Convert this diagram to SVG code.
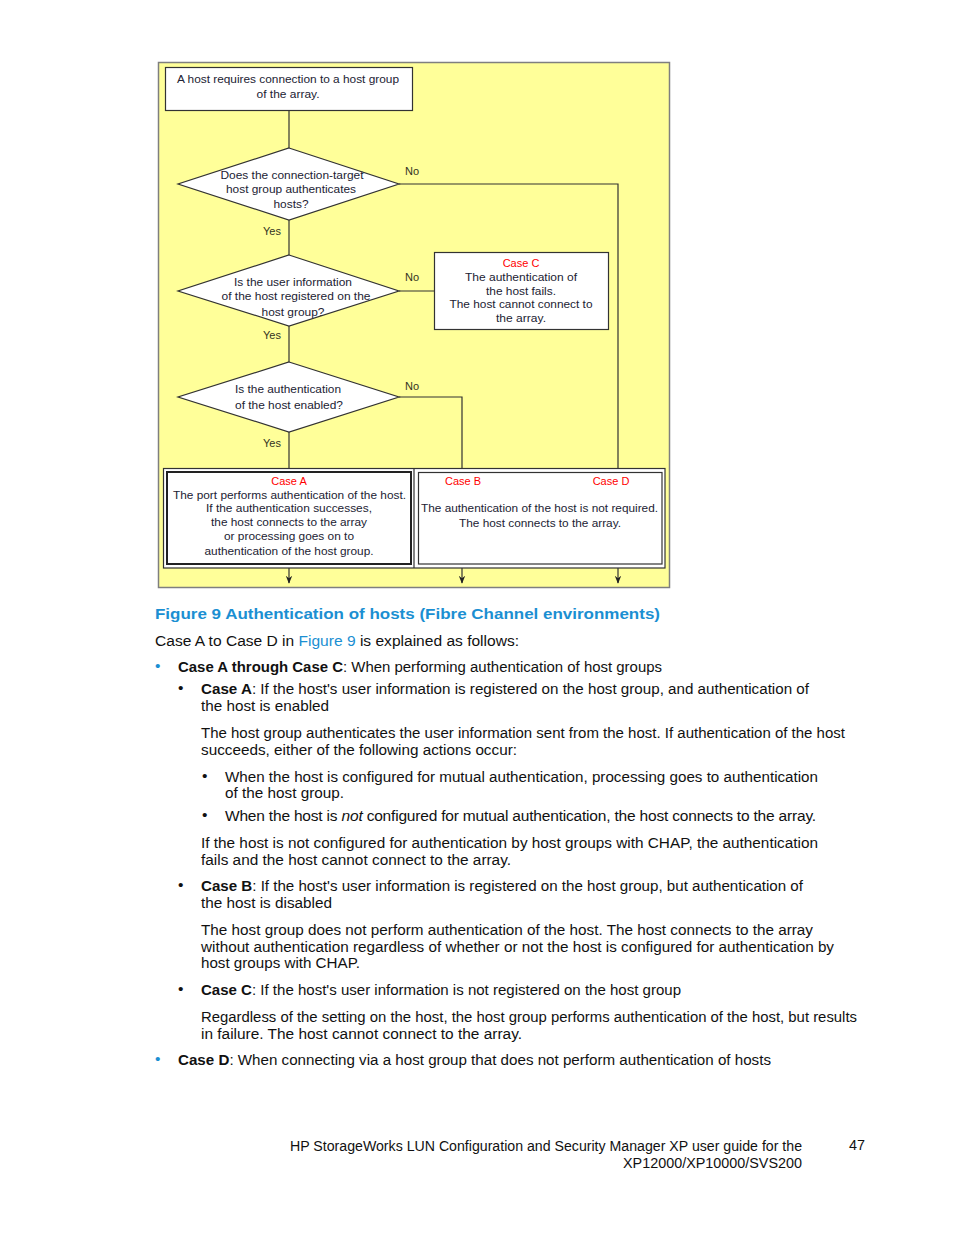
<svg xmlns="http://www.w3.org/2000/svg" width="954" height="1235" viewBox="0 0 954 1235">
<defs>
<style>
.d{font-family:"Liberation Sans",Arial,sans-serif;font-size:11px;fill:#222233;text-anchor:middle}
.red{fill:#ff0000}
.lb{font-family:"Liberation Sans",Arial,sans-serif;font-size:11px;fill:#333322}
.b{font-family:"Liberation Sans",Arial,sans-serif;font-size:15.5px;fill:#111}
.bb{font-weight:bold}
.blue{fill:#1b8fd2}
.ln{stroke:#333;stroke-width:1.2;fill:none}
.bx{fill:#fff;stroke:#333;stroke-width:1.2}
</style>
<marker id="ar" viewBox="0 0 10 10" refX="9" refY="5" markerWidth="8" markerHeight="8" orient="auto" markerUnits="userSpaceOnUse">
<path d="M0,1 L10,5 L0,9 L3,5 Z" fill="#222"/>
</marker>
</defs>
<rect width="954" height="1235" fill="#fff"/>
<rect x="158.5" y="62.5" width="511" height="525" fill="#ffff99" stroke="#7f7f7f" stroke-width="1.5"/>

<g id="connectors">
<path class="ln" d="M289,110 V148"/>
<path class="ln" d="M289,220 V255"/>
<path class="ln" d="M399,184 H618 V468"/>
<path class="ln" d="M399,291 H434"/>
<path class="ln" d="M289,326 V362"/>
<path class="ln" d="M399,397 H462 V468"/>
<path class="ln" d="M289,432 V468"/>
<path class="ln" d="M289,568 V583" marker-end="url(#ar)"/>
<path class="ln" d="M462,568 V583" marker-end="url(#ar)"/>
<path class="ln" d="M618,568 V583" marker-end="url(#ar)"/>
</g>

<g id="start">
<rect class="bx" x="165.5" y="67.5" width="247" height="43"/>
<text class="d" x="288" y="83" textLength="222" lengthAdjust="spacingAndGlyphs">A host requires connection to a host group</text>
<text class="d" x="288" y="98" textLength="63" lengthAdjust="spacingAndGlyphs">of the array.</text>
</g>

<g id="d1">
<polygon class="bx" points="289,148 399,184 289,220 178,184"/>
<text class="d" x="292" y="179" textLength="143" lengthAdjust="spacingAndGlyphs">Does the connection-target</text>
<text class="d" x="291" y="193" textLength="130" lengthAdjust="spacingAndGlyphs">host group authenticates</text>
<text class="d" x="291" y="208" textLength="35" lengthAdjust="spacingAndGlyphs">hosts?</text>
<text class="lb" x="405" y="175">No</text>
<text class="lb" x="263" y="235">Yes</text>
</g>

<g id="d2">
<polygon class="bx" points="289,255 399,291 289,326 178,291"/>
<text class="d" x="293" y="286" textLength="118" lengthAdjust="spacingAndGlyphs">Is the user information</text>
<text class="d" x="296" y="300" textLength="149" lengthAdjust="spacingAndGlyphs">of the host registered on the</text>
<text class="d" x="293" y="316" textLength="63" lengthAdjust="spacingAndGlyphs">host group?</text>
<text class="lb" x="405" y="281">No</text>
<text class="lb" x="263" y="339">Yes</text>
</g>

<g id="caseC">
<rect class="bx" x="434.5" y="252.5" width="174" height="77"/>
<text class="d red" x="521" y="267">Case C</text>
<text class="d" x="521" y="281" textLength="112" lengthAdjust="spacingAndGlyphs">The authentication of</text>
<text class="d" x="521" y="295" textLength="70" lengthAdjust="spacingAndGlyphs">the host fails.</text>
<text class="d" x="521" y="308" textLength="143" lengthAdjust="spacingAndGlyphs">The host cannot connect to</text>
<text class="d" x="521" y="322" textLength="50" lengthAdjust="spacingAndGlyphs">the array.</text>
</g>

<g id="d3">
<polygon class="bx" points="289,362 399,397 289,432 178,397"/>
<text class="d" x="288" y="393" textLength="106" lengthAdjust="spacingAndGlyphs">Is the authentication</text>
<text class="d" x="289" y="409" textLength="108" lengthAdjust="spacingAndGlyphs">of the host enabled?</text>
<text class="lb" x="405" y="390">No</text>
<text class="lb" x="263" y="447">Yes</text>
</g>

<g id="results">
<rect x="163.5" y="468.5" width="501.5" height="99.5" fill="#fff" stroke="#333" stroke-width="1.2"/>
<line x1="414" y1="468" x2="414" y2="568" stroke="#333" stroke-width="1.2"/>
</g>

<g id="caseA">
<rect x="167" y="472" width="244" height="92" fill="#fff" stroke="#222" stroke-width="2"/>
<text class="d red" x="289" y="485">Case A</text>
<text class="d" x="289.5" y="499" textLength="233" lengthAdjust="spacingAndGlyphs">The port performs authentication of the host.</text>
<text class="d" x="289" y="512" textLength="166" lengthAdjust="spacingAndGlyphs">If the authentication successes,</text>
<text class="d" x="289" y="526" textLength="156" lengthAdjust="spacingAndGlyphs">the host connects to the array</text>
<text class="d" x="289" y="540" textLength="130" lengthAdjust="spacingAndGlyphs">or processing goes on to</text>
<text class="d" x="289" y="555" textLength="169" lengthAdjust="spacingAndGlyphs">authentication of the host group.</text>
</g>

<g id="caseBD">
<rect x="418.5" y="472.5" width="243.5" height="91.5" fill="#fff" stroke="#333" stroke-width="1.2"/>
<text class="d red" x="463" y="485">Case B</text>
<text class="d red" x="611" y="485">Case D</text>
<text class="d" x="539.5" y="512" textLength="237" lengthAdjust="spacingAndGlyphs">The authentication of the host is not required.</text>
<text class="d" x="540" y="527" textLength="162" lengthAdjust="spacingAndGlyphs">The host connects to the array.</text>
</g>

<g id="body">
<text class="b bb blue" x="155" y="619" textLength="505" lengthAdjust="spacingAndGlyphs">Figure 9 Authentication of hosts (Fibre Channel environments)</text>
<text class="b" x="155" y="646" textLength="364" lengthAdjust="spacingAndGlyphs">Case A to Case D in <tspan class="blue">Figure 9</tspan> is explained as follows:</text>

<text class="b blue" x="155" y="671">•</text>
<text class="b" x="178" y="672" textLength="484" lengthAdjust="spacingAndGlyphs"><tspan class="bb">Case A through Case C</tspan>: When performing authentication of host groups</text>

<text class="b" x="178" y="693">•</text>
<text class="b" x="201" y="694" textLength="608" lengthAdjust="spacingAndGlyphs"><tspan class="bb">Case A</tspan>: If the host's user information is registered on the host group, and authentication of</text>
<text class="b" x="201" y="711" textLength="128" lengthAdjust="spacingAndGlyphs">the host is enabled</text>
<text class="b" x="201" y="738" textLength="644" lengthAdjust="spacingAndGlyphs">The host group authenticates the user information sent from the host.  If authentication of the host</text>
<text class="b" x="201" y="755" textLength="316" lengthAdjust="spacingAndGlyphs">succeeds, either of the following actions occur:</text>

<text class="b" x="202" y="781">•</text>
<text class="b" x="225" y="782" textLength="593" lengthAdjust="spacingAndGlyphs">When the host is configured for mutual authentication, processing goes to authentication</text>
<text class="b" x="225" y="798" textLength="119" lengthAdjust="spacingAndGlyphs">of the host group.</text>
<text class="b" x="202" y="820">•</text>
<text class="b" x="225" y="821" letter-spacing="-0.19">When the host is <tspan font-style="italic">not</tspan> configured for mutual authentication, the host connects to the array.</text>

<text class="b" x="201" y="848" textLength="617" lengthAdjust="spacingAndGlyphs">If the host is not configured for authentication by host groups with CHAP, the authentication</text>
<text class="b" x="201" y="865" textLength="310" lengthAdjust="spacingAndGlyphs">fails and the host cannot connect to the array.</text>

<text class="b" x="178" y="890">•</text>
<text class="b" x="201" y="891" textLength="602" lengthAdjust="spacingAndGlyphs"><tspan class="bb">Case B</tspan>: If the host's user information is registered on the host group, but authentication of</text>
<text class="b" x="201" y="908" textLength="131" lengthAdjust="spacingAndGlyphs">the host is disabled</text>
<text class="b" x="201" y="935" textLength="612" lengthAdjust="spacingAndGlyphs">The host group does not perform authentication of the host.  The host connects to the array</text>
<text class="b" x="201" y="952" textLength="633" lengthAdjust="spacingAndGlyphs">without authentication regardless of whether or not the host is configured for authentication by</text>
<text class="b" x="201" y="968" textLength="159" lengthAdjust="spacingAndGlyphs">host groups with CHAP.</text>

<text class="b" x="178" y="994">•</text>
<text class="b" x="201" y="995" textLength="480" lengthAdjust="spacingAndGlyphs"><tspan class="bb">Case C</tspan>: If the host's user information is not registered on the host group</text>
<text class="b" x="201" y="1022" textLength="656" lengthAdjust="spacingAndGlyphs">Regardless of the setting on the host, the host group performs authentication of the host, but results</text>
<text class="b" x="201" y="1039" textLength="321" lengthAdjust="spacingAndGlyphs">in failure.  The host cannot connect to the array.</text>

<text class="b blue" x="155" y="1064">•</text>
<text class="b" x="178" y="1065" textLength="593" lengthAdjust="spacingAndGlyphs"><tspan class="bb">Case D</tspan>: When connecting via a host group that does not perform authentication of hosts</text>
</g>

<g id="footer">
<text class="b" x="290" y="1151" style="font-size:14px" textLength="512" lengthAdjust="spacingAndGlyphs">HP StorageWorks LUN Configuration and Security Manager XP user guide for the</text>
<text class="b" x="623" y="1168" style="font-size:14px" textLength="179" lengthAdjust="spacingAndGlyphs">XP12000/XP10000/SVS200</text>
<text class="b" x="849" y="1150" style="font-size:14px" textLength="16" lengthAdjust="spacingAndGlyphs">47</text>
</g>
</svg>
